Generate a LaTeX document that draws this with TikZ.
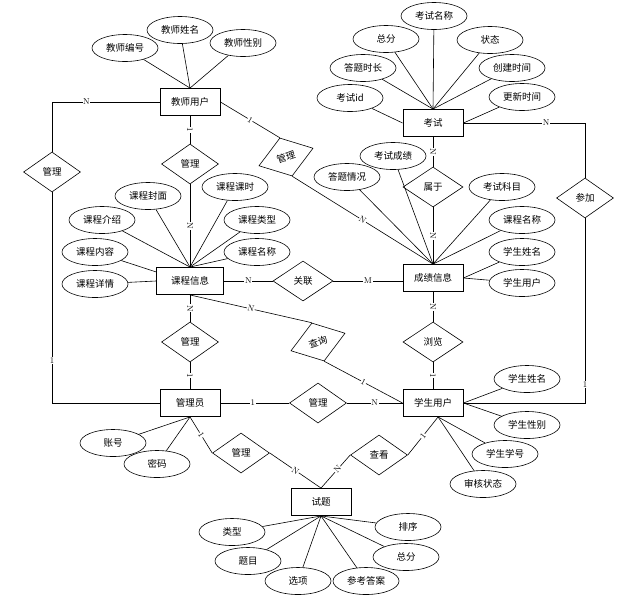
\documentclass[tikz,border=0pt]{standalone}
\usepackage{fontspec}
\newfontfamily\cjk{Noto Sans CJK SC}
\usetikzlibrary{shapes.geometric}

\begin{document}
\begin{tikzpicture}[x=1pt, y=-1pt, line width=0.6pt,
    cjktext/.style={font=\cjk\fontsize{9.5}{11}\selectfont},
    entity/.style={rectangle, draw, line width=0.9pt, minimum width=60pt, minimum height=27pt, inner sep=0pt, cjktext},
    attrib/.style={ellipse, draw, minimum width=66pt, minimum height=27pt, inner sep=0pt, cjktext},
    relat/.style={diamond, draw, minimum width=57pt, minimum height=40pt, inner sep=0pt, cjktext},
    mult/.style={fill=white, inner sep=0.6pt, font=\fontsize{8.5}{9}\selectfont},
    smult/.style={mult, sloped}]
    \useasboundingbox (0,0) rectangle (617,606);

    % Entities
    \node[entity] (tu) at (190,102) {教师用户};
    \node[entity, minimum width=67pt] (kc) at (190,281) {课程信息};
    \node[entity] (ks) at (433,123) {考试};
    \node[entity] (cj) at (433,278) {成绩信息};
    \node[entity] (gl) at (190,403) {管理员};
    \node[entity] (xs) at (433,403) {学生用户};
    \node[entity] (st) at (321,502) {试题};

    % Relationships
    \node[relat] (r1) at (52,172) {管理};
    \node[relat] (r2) at (190,164) {管理};
    \node[relat, rotate=18] (r3) at (286,157) {管理};
    \node[relat, minimum width=60pt] (r4) at (303,281) {关联};
    \node[relat, minimum width=60pt] (r5) at (433,187) {属于};
    \node[relat] (r6) at (585,198) {参加};
    \node[relat] (r7) at (190,342) {管理};
    \node[relat, rotate=18] (r8) at (318,342) {查询};
    \node[relat, minimum width=60pt] (r9) at (433,342) {浏览};
    \node[relat] (r10) at (318,403) {管理};
    \node[relat] (r11) at (241,453) {管理};
    \node[relat] (r12) at (379,455) {查看};

    % Teacher attributes
    \foreach \nm/\tx/\x/\y in {a1/教师编号/125/48, a2/教师姓名/180/30, a3/教师性别/243/43} {
        \node[attrib] (\nm) at (\x,\y) {\tx};
        \draw (\nm) -- (tu.north);
    }

    % Exam attributes
    \foreach \nm/\tx/\x/\y/\to in {e1/考试名称/434/16/north, e2/总分/386/39/north, e3/状态/490/40/north,
        e4/答题时长/363/68/north, e5/创建时间/512/68/north, e6/考试id/350/98/west, e7/更新时间/522/97/east} {
        \node[attrib] (\nm) at (\x,\y) {\tx};
        \draw (\nm) -- (ks.\to);
    }

    % Course attributes
    \foreach \nm/\tx/\x/\y/\to in {c1/课程封面/148/196/north, c2/课程课时/235/187/north, c3/课程介绍/102/220/north,
        c4/课程类型/257/220/north, c5/课程内容/95/252/165, c6/课程名称/257/252/north, c7/课程详情/95/284/west} {
        \node[attrib] (\nm) at (\x,\y) {\tx};
        \draw (\nm) -- (kc.\to);
    }

    % Score attributes
    \foreach \nm/\tx/\x/\y/\to in {s1/考试成绩/393/156/north, s2/答题情况/347/177/north, s3/考试科目/502/187/north,
        s4/课程名称/522/220/north, s5/学生姓名/522/252/east, s6/学生用户/522/283/east} {
        \node[attrib] (\nm) at (\x,\y) {\tx};
        \draw (\nm) -- (cj.\to);
    }

    % Student attributes
    \foreach \nm/\tx/\x/\y/\to in {u1/学生姓名/527/379/east, u2/学生性别/527/425/east,
        u3/学生学号/505/454/-70, u4/审核状态/483/484/-70} {
        \node[attrib] (\nm) at (\x,\y) {\tx};
        \draw (\nm) -- (xs.\to);
    }

    % Admin attributes
    \foreach \nm/\tx/\x/\y in {m1/账号/113/443, m2/密码/157/464} {
        \node[attrib] (\nm) at (\x,\y) {\tx};
        \draw (\nm) -- (gl.south);
    }

    % Question attributes
    \foreach \nm/\tx/\x/\y in {q1/类型/232/532, q2/题目/248/561, q3/选项/298/581,
        q4/参考答案/366/581, q5/总分/406/557, q6/排序/408/527} {
        \node[attrib] (\nm) at (\x,\y) {\tx};
        \draw (\nm) -- (st.south);
    }

    % Connections
    \draw (tu.west) -| node[mult, pos=0.34] {N} (r1.north);
    \draw (r1.south) |- node[mult, pos=0.4] {1} (gl.west);
    \draw (tu.south) -- node[smult] {1} (r2.north);
    \draw (r2.south) -- node[smult] {N} (kc.north);
    \draw (tu.east) -- node[smult] {1} (r3.north);
    \draw (r3.south) -- node[smult] {N} (cj.north);
    \draw (kc.east) -- node[smult] {N} (r4.west);
    \draw (r4.east) -- node[smult] {M} (cj.west |- r4.east);
    \draw (ks.east) -| node[mult, pos=0.34] {N} (r6.north);
    \draw (r6.south) |- node[mult, pos=0.45] {1} (xs.east);
    \draw (ks.south) -- node[smult] {N} (r5.north);
    \draw (r5.south) -- node[smult] {N} (cj.north);
    \draw (kc.south) -- node[smult] {N} (r7.north);
    \draw (r7.south) -- node[smult] {1} (gl.north);
    \draw (kc.south) -- node[smult] {N} (r8.north);
    \draw (r8.south) -- node[smult] {1} (xs.west);
    \draw (cj.south) -- node[smult] {N} (r9.north);
    \draw (r9.south) -- node[smult] {1} (xs.north);
    \draw (gl.east) -- node[mult, pos=0.47] {1} (r10.west);
    \draw (r10.east) -- node[mult] {N} (xs.west);
    \draw (gl.south) -- node[smult] {1} (r11.west);
    \draw (r11.east) -- node[smult] {N} (st.north);
    \draw (st.north) -- node[smult, pos=0.57] {N} (r12.west);
    \draw (r12.east) -- node[smult] {1} (xs.-70);
\end{tikzpicture}
\end{document}
